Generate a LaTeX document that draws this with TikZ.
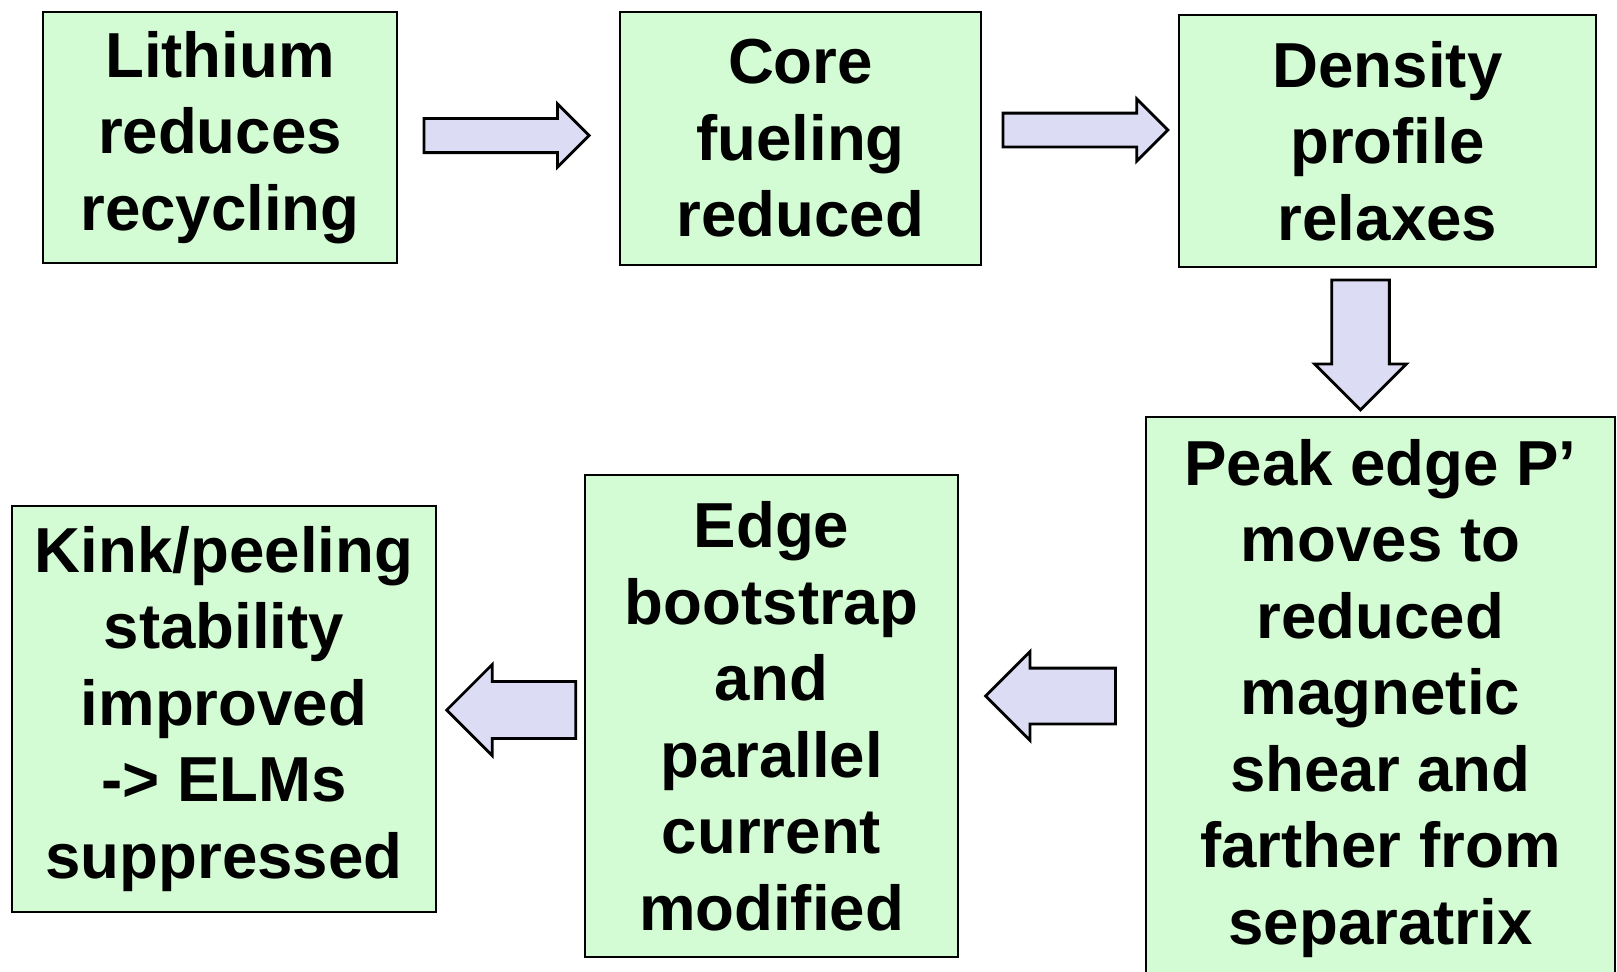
\documentclass[tikz,border=0pt]{standalone}
\usepackage{fontspec}
\setmainfont{Liberation Sans}
\usepackage{tikz}
\usetikzlibrary{shapes.arrows}
\definecolor{BoxFill}{HTML}{D4FCD4}
\definecolor{ArrowFill}{HTML}{DCDCF4}

\begin{document}
\begin{tikzpicture}[
  x=0.5pt, y=-0.5pt,
  box/.style={draw=black, fill=BoxFill, line width=1pt, inner sep=0pt, align=center,
    font=\fontsize{31.8}{38.25}\selectfont\bfseries},
  blockarr/.style={single arrow, draw=black, fill=ArrowFill, line width=1.4pt,
    inner sep=0pt, text depth=0pt, single arrow tip angle=90, minimum height=#1},
  blockarr/.default=82.5pt
]
  \useasboundingbox (0,0) rectangle (1617,971);
  \clip (0,0) rectangle (1617,971);

  % top row
  \node[box, minimum width=177pt, minimum height=125.5pt] (li) at (220,137.5)
    {Lithium\\reduces\\recycling};
  \node[box, minimum width=180.5pt, minimum height=126.5pt] (cf) at (800.5,138.5)
    {Core\\fueling\\reduced};
  \node[box, minimum width=208.5pt, minimum height=126pt] (dp) at (1387.5,141)
    {Density\\profile\\relaxes};

  % bottom row
  \node[box, minimum width=234.5pt, minimum height=281.5pt] (pe) at (1380.5,698.5)
    {Peak edge P’\\moves to\\reduced\\magnetic\\shear and\\farther from\\separatrix};
  \node[box, minimum width=186.5pt, minimum height=241pt] (eb) at (771.5,716)
    {Edge\\bootstrap\\and\\parallel\\current\\modified};
  \node[box, minimum width=212pt, minimum height=203pt] (kp) at (224,709)
    {Kink/peeling\\stability\\improved\\-> ELMs\\suppressed};

  % block arrows: text height gives the shaft, minimum width the head
  \node[blockarr, text height=15.5pt, minimum width=31.5pt] (a1) at (498,135.5) {};
  \node[blockarr, text height=15.5pt, minimum width=31pt] (a2) at (1077,130) {};
  \node[blockarr=65pt, rotate=-90, text height=22.5pt, minimum width=46pt] (a3) at (1360.5,330.5) {};
  \node[blockarr=65pt, rotate=180, text height=22.5pt, minimum width=44.5pt] (a4) at (1064.5,696) {};
  \node[blockarr=64.5pt, rotate=180, text height=22.5pt, minimum width=45.5pt] (a5) at (525.5,710) {};
\end{tikzpicture}
\end{document}
